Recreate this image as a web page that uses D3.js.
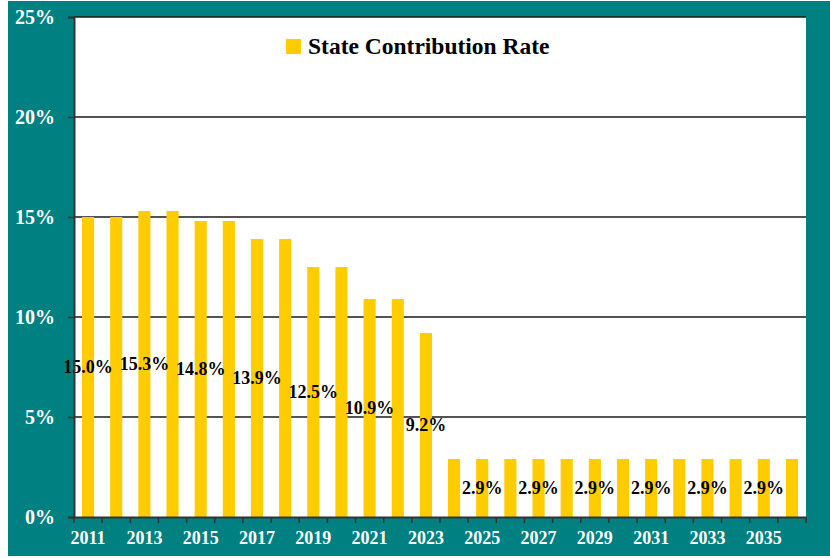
<!DOCTYPE html>
<html><head><meta charset="utf-8">
<script src="https://cdn.jsdelivr.net/npm/d3@7"></script>
<style>html,body{margin:0;padding:0;background:#fff;}svg{display:block;}</style>
</head><body><svg id="c" width="830" height="558"></svg>
<script>
const years = ["2011","2012","2013","2014","2015","2016","2017","2018","2019","2020","2021","2022","2023","2024","2025","2026","2027","2028","2029","2030","2031","2032","2033","2034","2035","2036"];
const rates = [15.0,15.0,15.3,15.3,14.8,14.8,13.9,13.9,12.5,12.5,10.9,10.9,9.2,2.9,2.9,2.9,2.9,2.9,2.9,2.9,2.9,2.9,2.9,2.9,2.9,2.9];
const labelYears = ["2011","2013","2015","2017","2019","2021","2023","2025","2027","2029","2031","2033","2035"];
const yTicks = [0,5,10,15,20,25];
const seriesName = "State Contribution Rate";

const FONT = "'Liberation Serif', 'Times New Roman', serif";
const svg = d3.select("#c");
const m = {l:74, t:17, r:806, b:517};
svg.append("rect").attr("x",8).attr("y",1).attr("width",822).attr("height",555).attr("fill","#008080");
svg.append("rect").attr("x",m.l).attr("y",m.t).attr("width",m.r-m.l).attr("height",m.b-m.t).attr("fill","#fff");

const x = d3.scaleBand().domain(years).range([m.l,m.r]).paddingInner(0.57).paddingOuter(0.285);
const xc = d3.scaleBand().domain(years).range([m.l,m.r]);
const y = d3.scaleLinear().domain([0,25]).range([m.b,m.t]);

// gridlines
svg.append("g").selectAll("line").data(yTicks.filter(d=>d>0)).join("line")
  .attr("x1",m.l).attr("x2",m.r).attr("y1",d=>y(d)).attr("y2",d=>y(d))
  .attr("stroke","#1a1a1a").attr("stroke-width",1.3);

// bars
svg.append("g").selectAll("rect").data(rates).join("rect")
  .attr("x",(d,i)=>x(years[i])).attr("width",x.bandwidth())
  .attr("y",d=>y(d)).attr("height",d=>y(0)-y(d)).attr("fill","#FFCC00");

// data labels
svg.append("g").selectAll("text").data(years.map((yr,i)=>({yr,v:rates[i]})).filter(d=>labelYears.includes(d.yr))).join("text")
  .attr("x",d=>xc(d.yr)+xc.bandwidth()/2).attr("y",d=>(y(d.v)+y(0))/2)
  .attr("text-anchor","middle").attr("dominant-baseline","central")
  .style("font-family",FONT).attr("font-weight","bold").attr("font-size",18)
  .attr("fill","#000").text(d=>d.v.toFixed(1)+"%");

// y axis
const yAxis = svg.append("g").attr("transform",`translate(${m.l},0)`)
  .call(d3.axisLeft(y).tickValues(yTicks).tickFormat(d=>d+"%").tickSize(6).tickPadding(13));
yAxis.select(".domain").attr("stroke","#333").attr("stroke-width",2);
yAxis.selectAll(".tick line").attr("stroke","#333").attr("stroke-width",1.5);
yAxis.selectAll("text").attr("fill","#fff").style("font-family",FONT)
  .attr("font-weight","bold").attr("font-size",20);

// x axis
const xAxis = svg.append("g").attr("transform",`translate(0,${m.b})`)
  .call(d3.axisBottom(xc).tickValues(labelYears).tickSize(0).tickPadding(14));
xAxis.select(".domain").attr("stroke","#333").attr("stroke-width",2);
xAxis.selectAll("text").attr("fill","#fff").style("font-family",FONT)
  .attr("font-weight","bold").attr("font-size",18);
// tick marks at category boundaries
const bounds = years.map(yr=>xc(yr)).concat([m.r]);
svg.append("g").selectAll("line").data(bounds).join("line")
  .attr("x1",d=>d).attr("x2",d=>d).attr("y1",m.b).attr("y2",m.b+6)
  .attr("stroke","#333").attr("stroke-width",1.5);

// legend
svg.append("rect").attr("x",286).attr("y",39).attr("width",15).attr("height",15).attr("fill","#FFCC00");
svg.append("text").attr("x",308).attr("y",54).style("font-family",FONT)
  .attr("font-weight","bold").attr("font-size",23.5).attr("fill","#000").text(seriesName);
</script></body></html>
